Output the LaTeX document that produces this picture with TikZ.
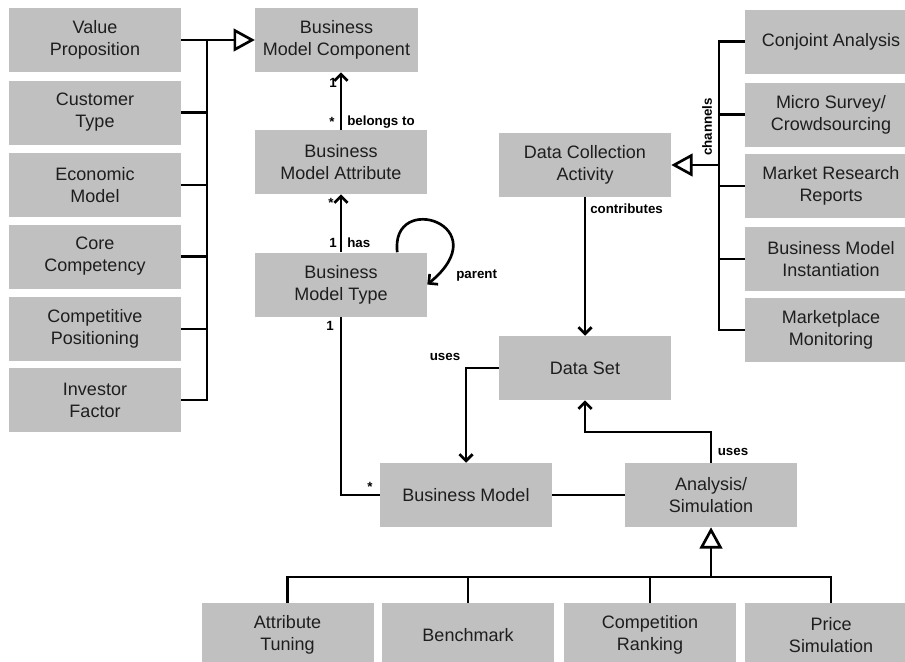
\documentclass[tikz,border=0pt]{standalone}
\usepackage{fontspec}
\setmainfont{Liberation Sans}
\usetikzlibrary{arrows.meta}
\definecolor{boxgray}{RGB}{192,192,192}
\definecolor{boxtext}{RGB}{30,30,30}
\tikzstyle{entity} = [fill=boxgray, text=boxtext, minimum width=129pt, minimum height=48pt, align=center, inner sep=0pt, font=\fontsize{13.5}{16.5}\selectfont]
\tikzstyle{tag} = [inner sep=0pt, font=\bfseries\fontsize{10}{12}\selectfont]
\tikzstyle{link} = [line width=2pt]
\tikzstyle{assoc} = [link, -{Straight Barb[length=5pt, width=10pt]}]
\tikzstyle{gen} = [link, -{Triangle[length=16pt, width=17pt, fill=white]}]

\begin{document}
\begin{tikzpicture}[x=0.75pt, y=-0.75pt]
	\useasboundingbox (0,0) rectangle (905,661);
	\clip (0,0) rectangle (905,661);

	\node[entity] (vp) at (95,40) {Value\\Proposition};
	\node[entity] (ct) at (95,112.5) {Customer\\Type};
	\node[entity] (em) at (95,185) {Economic\\Model};
	\node[entity] (cc) at (95,256.5) {Core\\Competency};
	\node[entity] (cp) at (95,329) {Competitive\\Positioning};
	\node[entity] (inv) at (95,400) {Investor\\Factor};

	\node[entity, minimum width=122pt] (bmc) at (336.5,40) {Business\\Model Component};
	\node[entity] (bma) at (341,162) {Business\\Model Attribute};
	\node[entity] (bmt) at (341,284.5) {Business\\Model Type};
	\node[entity] (dca) at (585,165) {Data Collection\\Activity};
	\node[entity] (ds) at (585,368) {Data Set};
	\node[entity] (bm) at (466,495) {Business Model};
	\node[entity] (as) at (711,495) {Analysis/\\Simulation};

	\node[entity] (ca) at (831,41.5) {Conjoint Analysis};
	\node[entity] (ms) at (831,114.5) {Micro Survey/\\Crowdsourcing};
	\node[entity] (mr) at (831,186) {Market Research\\Reports};
	\node[entity] (bmi) at (831,259) {Business Model\\Instantiation};
	\node[entity] (mm) at (831,330) {Marketplace\\Monitoring};

	\node[entity] (at) at (287.5,635) {Attribute\\Tuning};
	\node[entity] (bench) at (468,635) {Benchmark};
	\node[entity] (cr) at (650,635) {Competition\\Ranking};
	\node[entity] (ps) at (831,635) {Price\\Simulation};

	\coordinate (lbus) at (207,0);
	\coordinate (rbus) at (719,0);
	\coordinate (bbus) at (0,577);
	\coordinate (usebend) at (650,432);

	\draw[link] (vp.east -| lbus) -- (inv.east -| lbus) -- (inv.east);
	\draw[link] (ct.east) -- (ct.east -| lbus);
	\draw[link] (em.east) -- (em.east -| lbus);
	\draw[link] (cc.east) -- (cc.east -| lbus);
	\draw[link] (cp.east) -- (cp.east -| lbus);
	\draw[gen] (vp.east) -- (bmc.west);

	\draw[link] (ca.west) -- (ca.west -| rbus) -- (mm.west -| rbus) -- (mm.west);
	\draw[link] (ms.west) -- (ms.west -| rbus);
	\draw[link] (mr.west) -- (mr.west -| rbus);
	\draw[link] (bmi.west) -- (bmi.west -| rbus);
	\draw[gen] (dca.east -| rbus) -- (dca.east);

	\draw[link] (at.north) -- (at.north |- bbus) -- (ps.north |- bbus) -- (ps.north);
	\draw[link] (bench.north) -- (bench.north |- bbus);
	\draw[link] (cr.north) -- (cr.north |- bbus);
	\draw[gen] (as.south |- bbus) -- (as.south);

	\draw[assoc] (bma.north) -- (bma.north |- bmc.south);
	\draw[assoc] (bmt.north) -- (bma.south);
	\draw[assoc] ([xshift=-22.5pt]bmt.north east) .. controls (390,190) and (500,225) .. (bmt.east);
	\draw[assoc] (dca.south) -- (ds.north);
	\draw[assoc] (ds.west) -| (bm.north);
	\draw[assoc] (as.north) |- (usebend) -| (ds.south);
	\draw[link] (bm.east) -- (as.west);
	\draw[link] (bmt.south) |- (bm.west);

	\node[tag] (one1) at (333,83) {1};
	\node[tag] (star1) at (332,122) {*};
	\node[tag, anchor=west] (belongs) at (347,122) {belongs to};
	\node[tag] (star2) at (331,203) {*};
	\node[tag] (one2) at (333,243) {1};
	\node[tag, anchor=west] (has) at (347,243) {has};
	\node[tag, anchor=west] (parent) at (456,276) {parent};
	\node[tag, anchor=west] (contrib) at (590,209) {contributes};
	\node[tag, rotate=90] (chan) at (707,127) {channels};
	\node[tag] (uses1) at (445,357) {uses};
	\node[tag] (uses2) at (733,452) {uses};
	\node[tag] (one3) at (330,326) {1};
	\node[tag] (star3) at (370,487) {*};
\end{tikzpicture}
\end{document}
